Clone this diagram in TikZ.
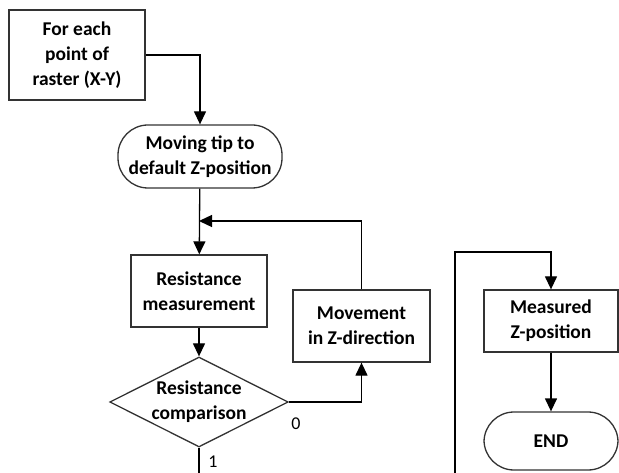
\documentclass[tikz,border=0pt]{standalone}
\usepackage{fontspec}
\setmainfont{Carlito}
\usetikzlibrary{positioning,arrows.meta,shapes.geometric}

\begin{document}
\begin{tikzpicture}[
    x=1pt, y=-1pt,
    font=\fontsize{19.5}{25}\selectfont\bfseries,
    box/.style={
    	draw=black!80, line width=1.3pt,
    	inner sep=0pt, align=center
    }, term/.style={
    	box, rounded corners=30pt
    }, decide/.style={
    	draw=black!80, line width=1.3pt, diamond, aspect=2,
    	inner sep=0pt, align=center
    }, pil/.style={
    	-{Triangle[length=13pt,width=12pt]},
    	line width=1.3pt
    }, lbl/.style={
    	font=\fontsize{18}{22}\selectfont
    }]
    \useasboundingbox (0,0) rectangle (619,473);

    %%% left column
    \node[box, minimum width=136, minimum height=90] (raster) at (77,55) {For each\\point of\\raster (X-Y)};
    \node[term, minimum width=164, minimum height=63] (moving) at (200,156.5) {Moving tip to\\default Z-position};
    \node[box, minimum width=136, minimum height=72] (meas) at (199,291) {Resistance\\measurement};
    \node[decide, minimum width=176, minimum height=90] (comp) at (199,402) {Resistance\\comparison};
    \node[box, minimum width=137, minimum height=72] (move) at (361.5,326) {Movement\\in Z-direction};

    %%% right column
    \node[box, minimum width=134, minimum height=62] (measured) at (551,321) {Measured\\Z-position};
    \node[term, minimum width=134, minimum height=58] (end) at (551,441) {END};

    \coordinate (join) at (199,221);
    \coordinate (out1) at (199,473);
    \coordinate (in2) at (455,473);
    \coordinate (turn) at (551,252);

    %%% EDGES
    \draw[pil] (raster.east) -| (moving.north);
    \draw[pil] (moving) -- (meas);
    \draw[pil] (meas) -- (comp);
    \draw[pil] (comp.east) -| (move.south);
    \draw[pil] (move.north) |- (join);
    \draw[line width=1.3pt] (comp.south) -- (out1);
    \draw[pil] (in2) |- (turn) -- (measured);
    \draw[pil] (measured) -- (end);

    \node[lbl] (zero) at (296,424) {0};
    \node[lbl] (one) at (213,462) {1};
\end{tikzpicture}
\end{document}
